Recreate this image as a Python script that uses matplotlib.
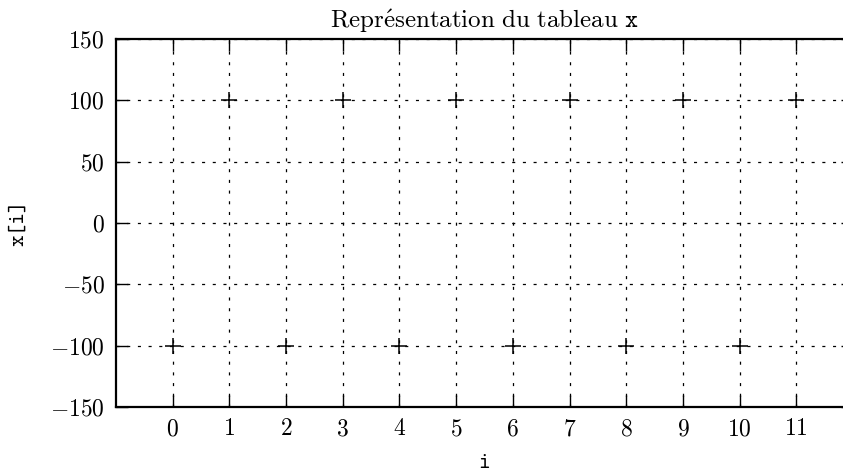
import matplotlib
matplotlib.use("Agg")
import matplotlib.pyplot as plt

# donnees du tableau x
indices = [0, 1, 2, 3, 4, 5, 6, 7, 8, 9, 10, 11]
valeurs = [-100, 100, -100, 100, -100, 100, -100, 100, -100, 100, -100, 100]
yticks = [-150, -100, -50, 0, 50, 100, 150]

plt.rcParams['font.family'] = 'serif'
plt.rcParams['font.serif'] = ['cmr10', 'DejaVu Serif']
plt.rcParams['mathtext.fontset'] = 'cm'
plt.rcParams['axes.formatter.use_mathtext'] = True
plt.rcParams['lines.scale_dashes'] = False

fig = plt.figure(figsize=(8.43, 4.75), dpi=100)
# l'axe depasse a droite comme dans l'image d'origine (recadree)
ax = fig.add_axes([0.1376, 0.1432, 0.8743, 0.7747])

ax.plot(indices, valeurs, linestyle='none', marker='+', color='black',
        markersize=12, markeredgewidth=1.1)

ax.set_xlim(-1, 12)
ax.set_ylim(-150, 150)
ax.set_xticks(indices)
ax.set_yticks(yticks)
ax.grid(True, color='black', linestyle=(0, (2.2, 5.5)), linewidth=0.9)

for s in ax.spines.values():
    s.set_linewidth(1.6)
ax.tick_params(direction='in', length=8.5, width=1, labelsize=17,
               top=True, right=True, pad=8)

ax.set_title(r'$\mathrm{Repr\'esentation\ du\ tableau}\ \mathtt{x}$',
             fontsize=18, pad=8)
ax.set_xlabel('i', fontfamily='cmtt10', fontsize=16, labelpad=10)
ax.set_ylabel('x[i]', fontfamily='cmtt10', fontsize=16, labelpad=16)

fig.savefig('out.png', dpi=100)
